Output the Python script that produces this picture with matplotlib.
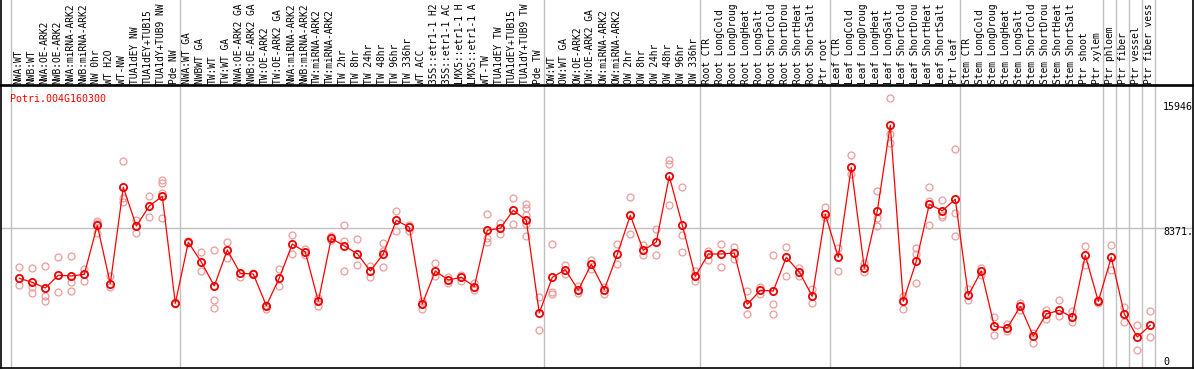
import numpy as np
import matplotlib
matplotlib.use("Agg")
import matplotlib.pyplot as plt

GENE = "Potri.004G160300"

# sample names as they show in the header (the long ones are cut at the top)
labels = [
    "NWA:WT", "NWB:WT", "NWA:OE-ARK2", "NWB:OE-ARK2", "NWA:miRNA-ARK2", "NWB:miRNA-ARK2",
    "NW 0hr", "WT H2O", "WT-NW", "TUA1dEY NW", "TUA1dEY+TUB15", "TUA1dY+TUB9 NW", "Pde NW",
    "NWA:WT GA", "NWBWT GA", "TW:WT", "TW:WT GA", "NWA:OE-ARK2 GA", "NWB:OE-ARK2 GA",
    "TW:OE-ARK2", "TW:OE-ARK2 GA", "NWA:miRNA-ARK2", "NWB:miRNA-ARK2", "TW:miRNA-ARK2",
    "TW:miRNA-ARK2", "TW 2hr", "TW 8hr", "TW 24hr", "TW 48hr", "TW 96hr", "TW 336hr", "WT ACC",
    "35S::etr1-1 H2", "35S::etr1-1 AC", "LMX5::etr1-1 H", "LMX5::etr1-1 A", "WT-TW",
    "TUA1dEY TW", "TUA1dEY+TUB15", "TUA1dY+TUB9 TW", "Pde TW",
    "OW:WT", "OW:WT GA", "OW:OE-ARK2", "OW:OE-ARK2 GA", "OW:miRNA-ARK2", "OW:miRNA-ARK2",
    "OW 2hr", "OW 8hr", "OW 24hr", "OW 48hr", "OW 96hr", "OW 336hr",
    "Root CTR", "Root LongCold", "Root LongDroug", "Root LongHeat", "Root LongSalt",
    "Root ShortCold", "Root ShortDrou", "Root ShortHeat", "Root ShortSalt", "Ptr root",
    "Leaf CTR", "Leaf LongCold", "Leaf LongDroug", "Leaf LongHeat", "Leaf LongSalt",
    "Leaf ShortCold", "Leaf ShortDrou", "Leaf ShortHeat", "Leaf ShortSalt", "Ptr leaf",
    "Stem CTR", "Stem LongCold", "Stem LongDroug", "Stem LongHeat", "Stem LongSalt",
    "Stem ShortCold", "Stem ShortDrou", "Stem ShortHeat", "Stem ShortSalt", "Ptr shoot",
    "Ptr xylem", "Ptr phloem", "Ptr fiber", "Ptr vessel", "Ptr fiber vess",
]

# index of the first sample of each group (separators)
group_starts = [0, 13, 41, 53, 63, 73, 84, 85, 86, 87, 88]

means = [
    5443, 5210, 4878, 5618, 5577, 5677, 8532, 5129, 10747, 8491, 9657, 10222, 3986,
    7541, 6393, 4995, 7093, 5735, 5694, 3846, 5461, 7442, 6976, 4103, 7774, 7326, 6877,
    5869, 6860, 8824, 8416, 3946, 5869, 5344, 5502, 4954, 8241, 8357, 9406, 8824, 3421,
    5502, 5945, 4761, 6259, 4779, 6842, 9115, 7075, 7559, 11388, 8550, 5560,
    6860, 6860, 6918, 3928, 4744, 4703, 6667, 5810, 4394, 9173,
    6667, 11912, 6026, 9366, 14378, 4103, 6434, 9756, 9383, 10047,
    4453, 5869, 2646, 2547, 3812, 2081, 3363, 3578, 3170, 6784, 4103,
    6667, 3363, 2022, 2704,
]

replicates = [
    [6119, 5035], [6044, 4954, 4569], [6143, 4429, 4120], [6667, 4627], [6726, 5245, 4686],
    [6003, 5303, 5677], [8800, 8066, 8650], [5595, 4919], [12262, 10106, 9873], [8859, 8066],
    [10222, 8998], [11172, 10980, 10397, 8940], [4000, 3950],
    [7600, 7500], [6959, 5869], [7075, 4179, 3695], [7559, 6609], [5735, 5537], [5694, 5750],
    [3654, 3900], [5985, 4977], [7984, 6877], [7133, 6819], [4295, 3812], [7891, 7700],
    [8532, 7600, 5869], [7716, 6218], [6178, 5537], [7501, 7017, 6084], [9366, 8217],
    [8567, 8217], [4138, 3672], [6335, 5595], [5502, 5169], [5653, 5269], [5169, 4779],
    [9173, 7774, 7559], [8649, 8043], [10106, 8590], [9791, 9540, 9150, 8625, 7926], [4336, 2413],
    [7425, 4627, 4528], [6218, 5711], [4977, 4604], [6510, 5968], [4954, 4546], [7442, 6259],
    [10164, 8008], [7402, 6819], [8334, 6784], [12338, 12105, 9698], [10764, 7967, 6976],
    [5886, 5269],
    [7052, 6527], [7442, 6084], [7285, 6568], [4703, 3345], [4936, 4546], [6784, 3928, 3345],
    [7250, 5560], [6026, 5560], [4802, 3986], [9581, 8998],
    [7209, 5869], [12612, 11522], [6335, 5793], [10531, 8975, 8491], [15946, 13871, 13329],
    [4394, 3637], [7209, 6877, 5152], [10764, 9966, 8532], [9989, 9150, 9033],
    [12979, 9232, 7891],
    [4820, 4179], [6044, 5618], [3188, 2156], [2780, 2389], [4021, 3578], [2255, 1690],
    [3613, 3054], [4161, 3246], [3538, 2879], [7326, 6236], [4196, 4004],
    [7384, 5945], [3788, 2879], [2704, 1247], [3520, 2005],
]

y_labels = ["15946", "8371.", "0"]
y_label_vals = [15946, 8371, 0]

W, H = 1194, 370
fig = plt.figure(figsize=(W / 100, H / 100), dpi=100)
mono = "DejaVu Sans Mono"
grid_c = "#c0c0c0"

x = np.arange(len(means))
xlim = ((1 - 19.3) / 13, (1193 - 19.3) / 13)
sep = np.array(group_starts) - 8 / 13

# main plot area
ax = fig.add_axes([1 / W, 2 / H, 1192 / W, 282 / H])
ax.set_xlim(*xlim)
ax.set_ylim(216, 16650)
ax.set_xticks([])
ax.set_yticks([])
for s in ax.spines.values():
    s.set_color("black")
    s.set_linewidth(1.2)
ax.axhline(8371, color=grid_c, lw=1, zorder=0)
for v in sep:
    ax.axvline(v, color=grid_c, lw=1, zorder=0)

rx = np.concatenate([[i] * len(r) for i, r in enumerate(replicates)])
ry = np.concatenate(replicates)
ax.plot(rx, ry, "o", ls="none", ms=5, mfc="none", mec="#ec9c9c", mew=0.9, zorder=2)
ax.plot(x, means, color="red", lw=0.9, zorder=3)
ax.plot(x, means, "o", ls="none", ms=5.2, mfc="none", mec="#ee0000", mew=1.3, zorder=4)

ax.text(-0.7, 15900, GENE, color="red", family=mono, fontsize=7.2, va="center", ha="left")

xl = (1163 - 19.3) / 13
offsets = [-9, -4, 10]
for lab, v, off in zip(y_labels, y_label_vals, offsets):
    ax.annotate(lab, (xl, v), xytext=(0, off), textcoords="offset pixels",
                family=mono, fontsize=7.2, va="center", ha="left", annotation_clip=False)

# header with rotated sample names
hx = fig.add_axes([1 / W, 285 / H, 1192 / W, 85 / H])
hx.set_xlim(*xlim)
hx.set_ylim(0, 85)
hx.set_xticks([])
hx.set_yticks([])
for k, s in hx.spines.items():
    s.set_color("black")
    s.set_linewidth(1.2)
hx.spines["top"].set_visible(False)
for v in sep:
    hx.axvline(v, color=grid_c, lw=1, zorder=0)
for i, lab in enumerate(labels):
    hx.text(i - 0.08, 1.2, lab, rotation=90, family=mono, fontsize=6.9,
            ha="center", va="bottom")

fig.savefig("out.png", dpi=100)
